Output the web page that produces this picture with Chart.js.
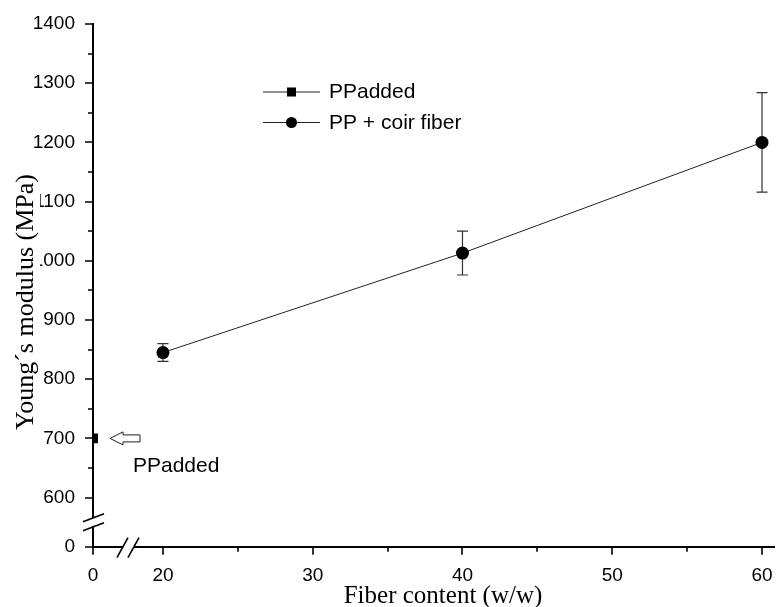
<!DOCTYPE html>
<html>
<head>
<meta charset="utf-8">
<script src="https://cdn.jsdelivr.net/npm/chart.js@4.4.0/dist/chart.umd.min.js"></script>
<style>
  html, body { margin: 0; padding: 0; background: #fff; }
</style>
</head>
<body>
<canvas id="modulusChart" width="781" height="607"></canvas>
<script>
// Values
const ppFiber = [0];
const ppModulus = [700];
const coirFiber = [20, 40, 60];
const coirModulus = [845, 1013, 1200];
const coirError = [15, 37, 84];

const xTickValues = [0, 20, 30, 40, 50, 60];
const xMinorValues = [25, 35, 45, 55];
const yTickValues = [0, 600, 700, 800, 900, 1000, 1100, 1200, 1300, 1400];
const yMinorValues = [650, 750, 850, 950, 1050, 1150, 1250, 1350];

// Both axes are broken: the 0 tick is squeezed in next to the break
const X_ZERO = 15.33;
const X_MAX = 60.8;
const Y_ZERO = 517.1;
const Y_MAX = 1400;
function bx(v) { return v < 10 ? X_ZERO + v : v; }
function by(v) { return v < 500 ? Y_ZERO + v : v; }

const tickFont = { family: 'Liberation Sans, Arial, sans-serif', size: 19 };
const noteFont = '21px Liberation Sans, Arial, sans-serif';

// ticks, error bars, breaks, legend, arrow note and titles
const extras = {
    id: 'extras',
    beforeDatasetsDraw(chart) {
        const ctx = chart.ctx;
        const xs = chart.scales.x, ys = chart.scales.y;
        ctx.save();
        ctx.strokeStyle = '#333';
        ctx.lineWidth = 1.2;
        coirFiber.forEach((f, i) => {
            const px = xs.getPixelForValue(bx(f));
            const top = ys.getPixelForValue(coirModulus[i] + coirError[i]);
            const bot = ys.getPixelForValue(coirModulus[i] - coirError[i]);
            ctx.beginPath();
            ctx.moveTo(px, top); ctx.lineTo(px, bot);
            ctx.moveTo(px - 5.5, top); ctx.lineTo(px + 5.5, top);
            ctx.moveTo(px - 5.5, bot); ctx.lineTo(px + 5.5, bot);
            ctx.stroke();
        });
        ctx.restore();
    },
    afterDraw(chart) {
        const ctx = chart.ctx;
        const xs = chart.scales.x, ys = chart.scales.y;
        const area = chart.chartArea;
        ctx.save();

        // tick marks
        ctx.strokeStyle = '#000';
        ctx.lineWidth = 1.6;
        ctx.beginPath();
        xTickValues.forEach(v => {
            const p = Math.round(xs.getPixelForValue(bx(v)));
            ctx.moveTo(p, area.bottom); ctx.lineTo(p, area.bottom + 8);
        });
        xMinorValues.forEach(v => {
            const p = Math.round(xs.getPixelForValue(v));
            ctx.moveTo(p, area.bottom); ctx.lineTo(p, area.bottom + 5);
        });
        yTickValues.forEach(v => {
            const p = Math.round(ys.getPixelForValue(by(v)));
            ctx.moveTo(area.left, p); ctx.lineTo(area.left - 8, p);
        });
        yMinorValues.forEach(v => {
            const p = Math.round(ys.getPixelForValue(v));
            ctx.moveTo(area.left, p); ctx.lineTo(area.left - 5, p);
        });
        ctx.stroke();

        // axis breaks
        const yb = (ys.getPixelForValue(Y_ZERO) + ys.getPixelForValue(600)) / 2;
        const xb = (xs.getPixelForValue(X_ZERO) + xs.getPixelForValue(20)) / 2;
        ctx.fillStyle = '#fff';
        ctx.beginPath();
        ctx.moveTo(area.left - 10, yb - 0.5); ctx.lineTo(area.left + 11, yb - 8.5);
        ctx.lineTo(area.left + 11, yb - 0.5); ctx.lineTo(area.left - 10, yb + 7.5);
        ctx.closePath(); ctx.fill();
        ctx.beginPath();
        ctx.moveTo(xb - 10.5, area.bottom + 11); ctx.lineTo(xb + 0.5, area.bottom - 9);
        ctx.lineTo(xb + 11.5, area.bottom - 9); ctx.lineTo(xb + 0.5, area.bottom + 11);
        ctx.closePath(); ctx.fill();
        ctx.lineWidth = 1.6;
        ctx.beginPath();
        ctx.moveTo(area.left - 10, yb - 0.5); ctx.lineTo(area.left + 11, yb - 8.5);
        ctx.moveTo(area.left - 10, yb + 8.5); ctx.lineTo(area.left + 11, yb + 0.5);
        ctx.moveTo(xb - 11, area.bottom + 11); ctx.lineTo(xb, area.bottom - 9);
        ctx.moveTo(xb, area.bottom + 11); ctx.lineTo(xb + 11, area.bottom - 9);
        ctx.stroke();

        // legend
        const legendRows = [
            { label: chart.data.datasets[0].label, style: 'rect', y: 92 },
            { label: chart.data.datasets[1].label, style: 'circle', y: 122.5 }
        ];
        ctx.font = noteFont;
        ctx.textBaseline = 'alphabetic';
        legendRows.forEach(r => {
            ctx.strokeStyle = '#222';
            ctx.lineWidth = 1;
            ctx.beginPath();
            ctx.moveTo(263, r.y); ctx.lineTo(320, r.y);
            ctx.stroke();
            ctx.fillStyle = '#000';
            if (r.style === 'rect') {
                ctx.fillRect(287, r.y - 4.5, 9, 9);
            } else {
                ctx.beginPath();
                ctx.arc(291.5, r.y, 5.5, 0, Math.PI * 2);
                ctx.fill();
            }
            ctx.fillText(r.label, 329, r.y + 6);
        });

        // arrow note pointing at the neat PP point
        const ax = xs.getPixelForValue(bx(ppFiber[0])) + 17;
        const ay = ys.getPixelForValue(ppModulus[0]);
        ctx.strokeStyle = '#222';
        ctx.lineWidth = 1;
        ctx.beginPath();
        ctx.moveTo(ax, ay);
        ctx.lineTo(ax + 13, ay - 6.5);
        ctx.lineTo(ax + 13, ay - 3.5);
        ctx.lineTo(ax + 30, ay - 3.5);
        ctx.lineTo(ax + 30, ay + 3.5);
        ctx.lineTo(ax + 13, ay + 3.5);
        ctx.lineTo(ax + 13, ay + 6.5);
        ctx.closePath();
        ctx.stroke();
        ctx.fillStyle = '#000';
        ctx.textAlign = 'left';
        ctx.fillText('PPadded', 133, ay + 34);

        // axis titles
        ctx.font = '25px Liberation Serif, Times New Roman, serif';
        ctx.textAlign = 'center';
        ctx.fillText('Fiber content (w/w)', 443, 603);

        ctx.translate(33, 302);
        ctx.rotate(-Math.PI / 2);
        ctx.font = '26px Liberation Serif, Times New Roman, serif';
        const w = ctx.measureText('Young\u00b4s modulus (MPa)').width;
        ctx.fillStyle = '#fff';
        ctx.fillRect(-w / 2 - 2, -22, w + 4, 29);
        ctx.fillStyle = '#000';
        ctx.fillText('Young\u00b4s modulus (MPa)', 0, 0);
        ctx.restore();
    }
};

const ctx = document.getElementById('modulusChart').getContext('2d');
const modulusChart = new Chart(ctx, {
    type: 'line',
    data: {
        datasets: [
            {
                label: 'PPadded',
                data: ppFiber.map((f, i) => ({ x: bx(f), y: by(ppModulus[i]) })),
                showLine: false,
                pointStyle: 'rect',
                pointRadius: 7,
                pointBackgroundColor: '#000',
                pointBorderColor: '#000',
                pointBorderWidth: 0
            },
            {
                label: 'PP + coir fiber',
                data: coirFiber.map((f, i) => ({ x: bx(f), y: by(coirModulus[i]) })),
                borderColor: '#222',
                borderWidth: 1,
                pointStyle: 'circle',
                pointRadius: 6.5,
                pointBackgroundColor: '#000',
                pointBorderColor: '#000',
                pointBorderWidth: 0
            }
        ]
    },
    options: {
        responsive: false,
        animation: false,
        layout: { padding: { top: 24, right: 0, left: 0, bottom: 0 } },
        scales: {
            x: {
                type: 'linear',
                min: X_ZERO,
                max: X_MAX,
                afterBuildTicks: (scale) => {
                    scale.ticks = xTickValues.map(v => ({ value: bx(v) }));
                },
                afterFit: (scale) => {
                    scale.height = 60.3;
                    scale.paddingLeft = 0;
                    scale.paddingRight = 0;
                },
                ticks: {
                    color: '#000',
                    font: tickFont,
                    padding: 18,
                    maxRotation: 0,
                    autoSkip: false,
                    callback: (value, index) => String(xTickValues[index])
                },
                grid: { display: false, drawTicks: false },
                border: { display: true, color: '#000', width: 2 }
            },
            y: {
                type: 'linear',
                min: Y_ZERO,
                max: Y_MAX,
                afterBuildTicks: (scale) => {
                    scale.ticks = yTickValues.map(v => ({ value: by(v) }));
                },
                afterFit: (scale) => {
                    scale.width = 93;
                    scale.paddingTop = 0;
                    scale.paddingBottom = 0;
                },
                ticks: {
                    color: '#000',
                    font: tickFont,
                    padding: 18,
                    autoSkip: false,
                    callback: (value, index) => String(yTickValues[index])
                },
                grid: { display: false, drawTicks: false },
                border: { display: true, color: '#000', width: 2 }
            }
        },
        plugins: {
            legend: { display: false },
            tooltip: { enabled: false }
        }
    },
    plugins: [extras]
});
</script>
</body>
</html>
